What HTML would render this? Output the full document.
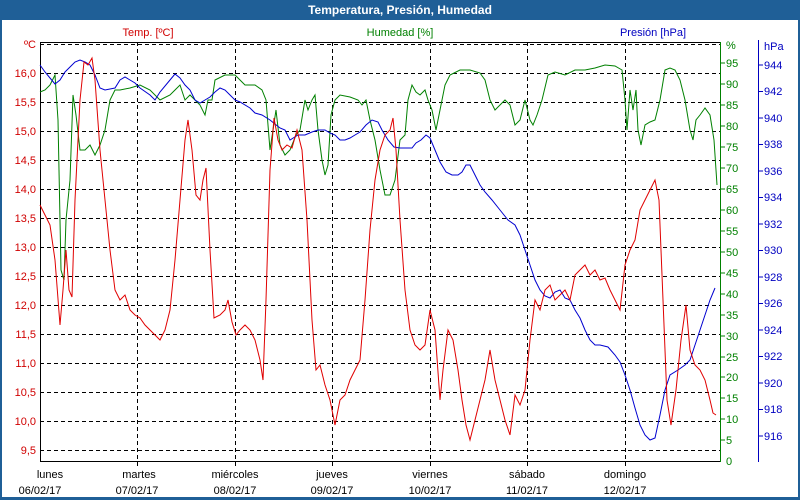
<!DOCTYPE html>
<html><head><meta charset="utf-8"><style>
html,body{margin:0;padding:0;background:#fff;}
svg{display:block;font-family:"Liberation Sans",sans-serif;}
</style></head><body>
<svg width="800" height="500" viewBox="0 0 800 500" xmlns="http://www.w3.org/2000/svg">
<rect x="0" y="0" width="800" height="500" fill="#1f5f97"/>
<rect x="2" y="20" width="796" height="477" fill="#fff"/>
<text x="400" y="14" fill="#fff" font-size="12" font-weight="bold" text-anchor="middle">Temperatura, Presión, Humedad</text>
<text x="148" y="36" fill="#d00000" font-size="11" text-anchor="middle">Temp. [ºC]</text>
<text x="400" y="36" fill="#008000" font-size="11" text-anchor="middle">Humedad [%]</text>
<text x="653" y="36" fill="#0000c0" font-size="11" text-anchor="middle">Presión [hPa]</text>
<g stroke="#000" stroke-dasharray="4,3" stroke-width="1">
<line x1="40" x2="720" y1="44.5" y2="44.5"/><line x1="40" x2="720" y1="73.5" y2="73.5"/><line x1="40" x2="720" y1="102.5" y2="102.5"/><line x1="40" x2="720" y1="131.5" y2="131.5"/><line x1="40" x2="720" y1="160.5" y2="160.5"/><line x1="40" x2="720" y1="189.5" y2="189.5"/><line x1="40" x2="720" y1="218.5" y2="218.5"/><line x1="40" x2="720" y1="247.5" y2="247.5"/><line x1="40" x2="720" y1="276.5" y2="276.5"/><line x1="40" x2="720" y1="305.5" y2="305.5"/><line x1="40" x2="720" y1="334.5" y2="334.5"/><line x1="40" x2="720" y1="363.5" y2="363.5"/><line x1="40" x2="720" y1="392.5" y2="392.5"/><line x1="40" x2="720" y1="421.5" y2="421.5"/><line x1="40" x2="720" y1="450.5" y2="450.5"/>
<line x1="137.5" x2="137.5" y1="42" y2="466"/><line x1="235.5" x2="235.5" y1="42" y2="466"/><line x1="332.5" x2="332.5" y1="42" y2="466"/><line x1="430.5" x2="430.5" y1="42" y2="466"/><line x1="527.5" x2="527.5" y1="42" y2="466"/><line x1="625.5" x2="625.5" y1="42" y2="466"/>
</g>
<g font-size="11" fill="#d00000" text-anchor="end">
<text x="36" y="48">ºC</text><text x="36" y="77">16,0</text><text x="36" y="106">15,5</text><text x="36" y="135">15,0</text><text x="36" y="164">14,5</text><text x="36" y="193">14,0</text><text x="36" y="222">13,5</text><text x="36" y="251">13,0</text><text x="36" y="280">12,5</text><text x="36" y="309">12,0</text><text x="36" y="338">11,5</text><text x="36" y="367">11,0</text><text x="36" y="396">10,5</text><text x="36" y="425">10,0</text><text x="36" y="454">9,5</text>
</g>
<line x1="40.5" y1="42" x2="40.5" y2="461" stroke="#000"/>
<line x1="40" y1="461.5" x2="721" y2="461.5" stroke="#000"/>
<line x1="40" y1="42.5" x2="721" y2="42.5" stroke="#000"/>
<line x1="720.5" y1="42" x2="720.5" y2="462" stroke="#008000"/>
<g stroke="#008000"><line x1="720" x2="725" y1="63" y2="63"/><line x1="720" x2="725" y1="84" y2="84"/><line x1="720" x2="725" y1="105" y2="105"/><line x1="720" x2="725" y1="126" y2="126"/><line x1="720" x2="725" y1="147" y2="147"/><line x1="720" x2="725" y1="168" y2="168"/><line x1="720" x2="725" y1="189" y2="189"/><line x1="720" x2="725" y1="210" y2="210"/><line x1="720" x2="725" y1="231" y2="231"/><line x1="720" x2="725" y1="252" y2="252"/><line x1="720" x2="725" y1="273" y2="273"/><line x1="720" x2="725" y1="294" y2="294"/><line x1="720" x2="725" y1="315" y2="315"/><line x1="720" x2="725" y1="336" y2="336"/><line x1="720" x2="725" y1="357" y2="357"/><line x1="720" x2="725" y1="377" y2="377"/><line x1="720" x2="725" y1="398" y2="398"/><line x1="720" x2="725" y1="419" y2="419"/><line x1="720" x2="725" y1="440" y2="440"/></g>
<g font-size="11" fill="#008000">
<text x="726" y="49">%</text><text x="726" y="67">95</text><text x="726" y="88">90</text><text x="726" y="109">85</text><text x="726" y="130">80</text><text x="726" y="151">75</text><text x="726" y="172">70</text><text x="726" y="193">65</text><text x="726" y="214">60</text><text x="726" y="235">55</text><text x="726" y="256">50</text><text x="726" y="277">45</text><text x="726" y="298">40</text><text x="726" y="319">35</text><text x="726" y="340">30</text><text x="726" y="361">25</text><text x="726" y="381">20</text><text x="726" y="402">15</text><text x="726" y="423">10</text><text x="726" y="444">5</text><text x="726" y="465">0</text>
</g>
<line x1="758.5" y1="40" x2="758.5" y2="462" stroke="#0000c0"/>
<g stroke="#0000c0"><line x1="758" x2="763" y1="65" y2="65"/><line x1="758" x2="763" y1="91.5" y2="91.5"/><line x1="758" x2="763" y1="118" y2="118"/><line x1="758" x2="763" y1="144.5" y2="144.5"/><line x1="758" x2="763" y1="171" y2="171"/><line x1="758" x2="763" y1="197.5" y2="197.5"/><line x1="758" x2="763" y1="224" y2="224"/><line x1="758" x2="763" y1="250.5" y2="250.5"/><line x1="758" x2="763" y1="277" y2="277"/><line x1="758" x2="763" y1="303.5" y2="303.5"/><line x1="758" x2="763" y1="330" y2="330"/><line x1="758" x2="763" y1="356.5" y2="356.5"/><line x1="758" x2="763" y1="383" y2="383"/><line x1="758" x2="763" y1="409.5" y2="409.5"/><line x1="758" x2="763" y1="436" y2="436"/></g>
<g font-size="11" fill="#0000c0">
<text x="764" y="50">hPa</text><text x="764" y="69">944</text><text x="764" y="95">942</text><text x="764" y="122">940</text><text x="764" y="148">938</text><text x="764" y="175">936</text><text x="764" y="201">934</text><text x="764" y="228">932</text><text x="764" y="254">930</text><text x="764" y="281">928</text><text x="764" y="307">926</text><text x="764" y="334">924</text><text x="764" y="360">922</text><text x="764" y="387">920</text><text x="764" y="413">918</text><text x="764" y="440">916</text>
</g>
<g font-size="11" fill="#000" text-anchor="middle">
<text x="50" y="478">lunes</text><text x="40" y="494">06/02/17</text>
<text x="139" y="478">martes</text><text x="137" y="494">07/02/17</text>
<text x="235" y="478">miércoles</text><text x="235" y="494">08/02/17</text>
<text x="332" y="478">jueves</text><text x="332" y="494">09/02/17</text>
<text x="430" y="478">viernes</text><text x="430" y="494">10/02/17</text>
<text x="527" y="478">sábado</text><text x="527" y="494">11/02/17</text>
<text x="625" y="478">domingo</text><text x="625" y="494">12/02/17</text>
</g>
<polyline fill="none" stroke="#008000" stroke-width="1" points="40,92 45,90 50,85 55,75 58,120 61,270 64,280 66,220 70,180 73,95 76,115 80,150 85,150 90,145 95,155 100,145 105,130 110,100 115,90 120,90 130,88 140,85 150,90 160,100 170,95 175,90 180,85 185,100 190,95 195,100 200,105 205,115 208,100 212,100 215,80 225,75 235,75 240,80 245,85 255,85 262,90 266,100 270,150 273,130 276,110 280,145 285,155 290,150 296,135 300,130 305,100 308,110 312,100 315,95 318,130 322,160 325,175 328,165 331,115 335,100 340,95 350,97 358,100 362,105 366,100 370,120 375,140 380,170 385,195 390,195 395,180 400,140 405,135 408,100 412,85 416,92 420,95 425,90 428,100 432,110 436,130 440,110 445,85 450,75 460,70 470,70 480,73 485,80 490,100 495,110 500,105 505,100 510,105 515,125 520,120 525,100 530,120 533,125 537,115 542,100 548,75 555,72 565,75 575,70 585,70 595,68 605,65 615,66 622,70 625,100 627,130 630,90 633,110 636,90 638,130 641,145 645,125 650,122 655,120 660,100 665,70 670,68 675,70 680,80 685,100 690,130 693,140 696,120 700,115 705,108 710,115 714,140 717,185"/>
<polyline fill="none" stroke="#0000d0" stroke-width="1" points="40,65 45,72 50,78 55,84 60,80 65,72 70,67 75,62 80,60 85,62 90,65 95,75 100,88 105,90 115,88 120,80 125,77 130,80 135,83 140,88 150,95 155,100 160,92 170,80 175,74 180,78 185,85 190,90 195,100 200,103 205,100 210,97 215,92 220,88 225,90 230,95 235,100 240,102 250,108 255,113 262,115 270,120 280,128 285,130 290,140 298,135 305,135 312,132 318,130 325,130 330,133 335,135 340,140 345,140 350,138 355,135 360,132 366,125 372,120 378,122 382,130 388,140 394,147 400,148 406,148 412,148 416,143 421,140 426,135 430,138 435,150 440,162 446,172 452,175 458,175 462,172 466,165 470,165 475,175 480,185 485,192 492,200 500,210 508,220 515,225 520,235 525,250 530,265 535,280 540,290 545,296 550,298 555,292 560,290 565,298 570,300 575,310 580,318 585,330 590,340 595,345 600,345 608,347 615,355 620,362 625,375 630,390 635,408 640,425 645,435 650,440 655,438 660,415 665,390 670,375 678,370 685,365 690,360 695,345 700,330 705,315 710,300 715,288"/>
<polyline fill="none" stroke="#e00000" stroke-width="1" points="40,205 45,215 50,225 55,260 60,325 63,290 66,250 69,290 72,297 75,200 80,100 84,62 88,65 92,58 95,80 100,150 105,200 110,250 115,290 120,300 125,295 130,310 135,315 140,318 145,325 150,330 155,335 160,340 165,330 170,310 175,260 180,200 185,140 188,120 192,150 196,195 200,200 203,180 206,168 210,250 214,318 220,315 225,310 228,300 232,322 236,335 240,330 245,325 250,330 255,340 260,360 263,380 266,300 270,170 274,118 278,140 282,150 287,145 292,148 297,130 302,150 307,220 312,320 316,370 320,365 325,385 330,400 335,425 340,400 345,395 350,380 355,370 360,360 365,300 370,230 375,180 380,150 385,135 390,130 393,118 396,150 400,220 405,290 410,330 415,345 420,350 425,345 430,310 435,330 440,400 443,370 448,330 453,340 458,370 462,400 466,425 470,440 475,420 480,400 485,380 490,350 495,380 500,400 505,420 510,435 515,395 520,405 525,390 530,340 535,300 540,310 545,290 550,285 555,300 560,295 565,290 570,300 575,275 580,270 585,265 590,275 595,270 600,280 605,278 610,290 615,300 620,310 625,265 630,250 635,240 640,210 645,200 650,190 655,180 659,200 663,300 667,400 671,425 676,390 681,340 686,305 690,350 695,365 700,370 705,380 710,400 713,413 716,415"/>
</svg>
</body></html>
